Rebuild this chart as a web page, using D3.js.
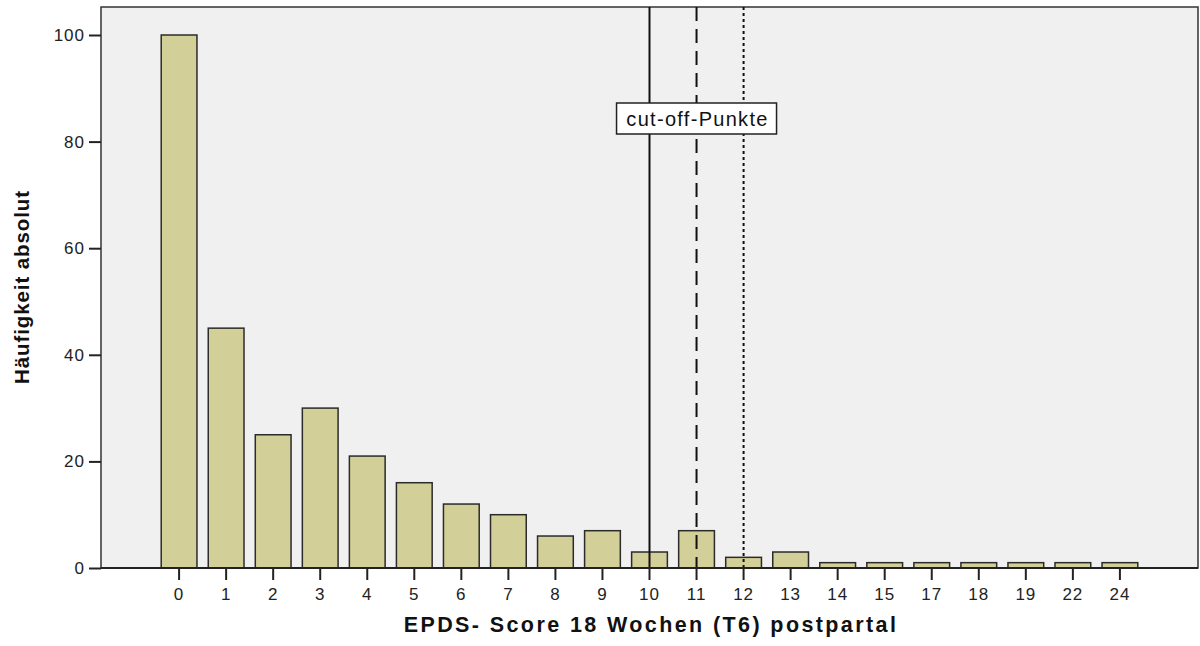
<!DOCTYPE html>
<html><head><meta charset="utf-8">
<script src="https://cdn.jsdelivr.net/npm/d3@7"></script>
<style>body{margin:0;background:#fff}svg{display:block}</style>
</head><body>
<svg id="c" width="1200" height="646"></svg>
<script>
const categories = ["0","1","2","3","4","5","6","7","8","9","10","11","12","13","14","15","17","18","19","22","24"];
const counts = [100,45,25,30,21,16,12,10,6,7,3,7,2,3,1,1,1,1,1,1,1];
const yTicks = [0,20,40,60,80,100];
const cutoffs = [{cat:"10",style:"solid"},{cat:"11",style:"dashed"},{cat:"12",style:"dotted"}];
const cutoffLabel = "cut-off-Punkte";
const xTitle = "EPDS- Score 18 Wochen (T6) postpartal";
const yTitle = "Häufigkeit absolut";

const svg = d3.select("#c");
const L = 101, R = 1198, T = 7, B = 568;
const font = "'Liberation Sans', Arial, sans-serif";

const x = d3.scaleBand().domain(categories).range([L, R]).paddingInner(0.24).paddingOuter(1.28);
const y = d3.scaleLinear().domain([0, 100]).range([B, 35]);

svg.append("rect").attr("x", L).attr("y", T).attr("width", R - L).attr("height", B - T)
  .attr("fill", "#f0f0f0").attr("stroke", "#333").attr("stroke-width", 1.5);

svg.append("g").selectAll("rect").data(counts).join("rect")
  .attr("x", (d, i) => x(categories[i]))
  .attr("width", x.bandwidth())
  .attr("y", d => y(d))
  .attr("height", d => B - y(d))
  .attr("fill", "#d3cf98").attr("stroke", "#2b2b2b").attr("stroke-width", 1.5);

const dash = {solid: null, dashed: "14,8", dotted: "3,3"};
cutoffs.forEach(c => {
  const cx = x(c.cat) + x.bandwidth() / 2;
  svg.append("line").attr("x1", cx).attr("x2", cx).attr("y1", T).attr("y2", B)
    .attr("stroke", "#111").attr("stroke-width", 2)
    .attr("stroke-dasharray", dash[c.style]);
});

const lx = x("11") + x.bandwidth() / 2;
const lbl = svg.append("g");
lbl.append("rect").attr("x", lx - 80).attr("y", 103).attr("width", 160).attr("height", 31)
  .attr("fill", "#fff").attr("stroke", "#222").attr("stroke-width", 1.5);
lbl.append("text").attr("x", lx + 1).attr("y", 126).attr("text-anchor", "middle")
  .attr("font-family", font).attr("font-size", 20).attr("letter-spacing", 1.3)
  .attr("fill", "#111").text(cutoffLabel);

// y axis
const yAxis = d3.axisLeft(y).tickValues(yTicks).tickSize(12).tickPadding(4);
const gy = svg.append("g").attr("transform", `translate(${L},0)`).call(yAxis);
gy.select(".domain").remove();
gy.selectAll("line").attr("stroke", "#222").attr("stroke-width", 2);
gy.selectAll("text").attr("font-family", font).attr("font-size", 17).attr("letter-spacing", 1).attr("fill", "#222");

// x axis
const xAxis = d3.axisBottom(x).tickSize(12).tickPadding(8);
const gx = svg.append("g").attr("transform", `translate(0,${B})`).call(xAxis);
gx.select(".domain").remove();
gx.selectAll("line").attr("stroke", "#222").attr("stroke-width", 2);
gx.selectAll("text").attr("font-family", font).attr("font-size", 17).attr("letter-spacing", 1).attr("fill", "#222");

svg.append("line").attr("x1", L).attr("x2", R).attr("y1", B).attr("y2", B).attr("stroke", "#222").attr("stroke-width", 2);

svg.append("text").attr("x", 651).attr("y", 632).attr("text-anchor", "middle")
  .attr("font-family", font).attr("font-size", 21.5).attr("letter-spacing", 2.4).attr("font-weight", "bold").attr("fill", "#111").text(xTitle);
svg.append("text").attr("transform", `translate(29,287) rotate(-90)`).attr("text-anchor", "middle")
  .attr("font-family", font).attr("font-size", 20.5).attr("letter-spacing", 0.9).attr("font-weight", "bold").attr("fill", "#111").text(yTitle);
</script>
</body></html>
